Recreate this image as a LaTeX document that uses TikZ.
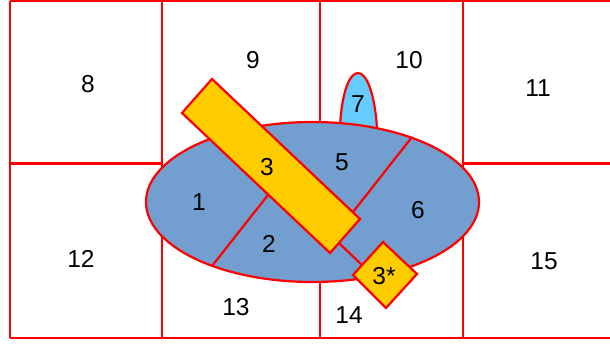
\documentclass[tikz,border=0pt]{standalone}
\usepackage{fontspec}
\setmainfont{Liberation Sans}
\definecolor{ellblue}{HTML}{729FCF}
\definecolor{lightblue}{HTML}{66CCFF}
\definecolor{goldy}{HTML}{FFCC00}
\definecolor{redline}{HTML}{FF0000}
\begin{document}
\begin{tikzpicture}[x=1pt,y=-1pt,
  redl/.style={draw=redline,line width=2.2pt},
  lbl/.style={font=\fontsize{24.5}{28}\selectfont,inner sep=0pt,text=black}]
\useasboundingbox (0,0) rectangle (610,343);
% grid
\draw[redl] (10,1.2) -- (610,1.2);
\draw[redl] (10,163.5) -- (162,163.5);
\draw[redl] (463,163.5) -- (610,163.5);
\draw[redl] (10,338) -- (610,338);
\draw[redl] (10,1.2) -- (10,338);
\draw[redl] (162,1.2) -- (162,338);
\draw[redl] (320,1.2) -- (320,338);
\draw[redl] (463,1.2) -- (463,338);
% bump 7
\draw[redl,fill=lightblue] (340,126) .. controls (344,55) and (372,55) .. (377,128);
% ellipse
\draw[redl,fill=ellblue] (312.5,202) ellipse [x radius=166.5,y radius=80];
% dividing lines
\coordinate (a1) at (268,195);
\coordinate (a2) at (212,266);
\draw[redl] (a1) -- (a2);
\coordinate (b1) at (412,137);
\coordinate (b2) at (353,212);
\draw[redl] (b1) -- (b2);
% rectangle 3
\draw[redl,fill=goldy] (212,79) -- (360,219) -- (330,253) -- (182,113) -- cycle;
% connector to diamond
\coordinate (c1) at (339,243);
\coordinate (c2) at (365,268);
\draw[redl] (c1) -- (c2);
% diamond 3*
\draw[redl,fill=goldy] (383,242) -- (417,274) -- (386,308) -- (353,275) -- cycle;
% labels
\node[lbl] (l8) at (88,84) {8};
\node[lbl] (l9) at (253,60) {9};
\node[lbl] (l10) at (409,60) {10};
\node[lbl] (l11) at (538,88) {11};
\node[lbl] (l12) at (81,259) {12};
\node[lbl] (l13) at (236,307) {13};
\node[lbl] (l14) at (349,315) {14};
\node[lbl] (l15) at (544,261) {15};
\node[lbl] (l1) at (199,202) {1};
\node[lbl] (l2) at (269,244) {2};
\node[lbl] (l3) at (267,167) {3};
\node[lbl] (l5) at (342,162) {5};
\node[lbl] (l6) at (418,210) {6};
\node[lbl] (l7) at (358,104) {7};
\node[lbl] (l3s) at (384,276) {3*};
\end{tikzpicture}
\end{document}
